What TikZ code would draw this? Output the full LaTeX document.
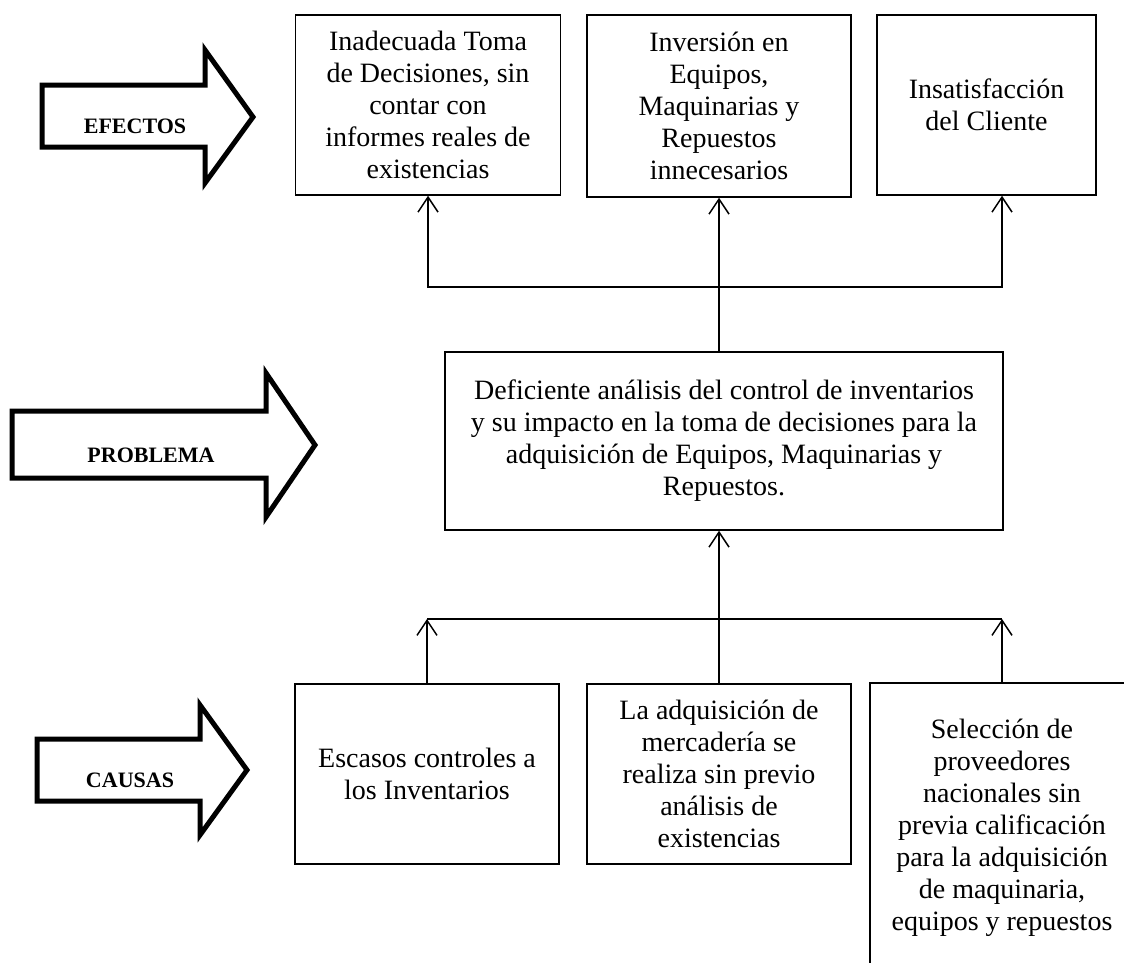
\documentclass[tikz,border=0pt]{standalone}
\usepackage{fontspec}
\setmainfont{Liberation Serif}
\usetikzlibrary{arrows.meta}
\begin{document}
\begin{tikzpicture}[x=1pt,y=-1pt,
 box/.style={draw,line width=1.5pt,inner sep=0pt,align=center,font=\fontsize{28}{32}\selectfont},
 conn/.style={line width=1.5pt},
 arr/.style={conn,-{Straight Barb[length=15pt,width=20pt,line width=1.5pt]}},
 blockarrow/.style={draw,line width=5pt,miter limit=10},
 lbl/.style={font=\fontsize{22}{24}\selectfont\bfseries}]
\useasboundingbox (0,0) rectangle (1124,962);
\clip (0,0) rectangle (1124,962);
% block arrows
\draw[blockarrow] (42,85) -- (205,85) -- (205,50) -- (253,117) -- (205,183) -- (205,147) -- (42,147) -- cycle;
\draw[blockarrow] (12,411) -- (266,411) -- (266,373) -- (315,445) -- (266,517) -- (266,478) -- (12,478) -- cycle;
\draw[blockarrow] (37,739) -- (200,739) -- (200,705) -- (247,770) -- (200,835) -- (200,801) -- (37,801) -- cycle;
\node[lbl] (efectos) at (135,126) {EFECTOS};
\node[lbl] (problema) at (151,455) {PROBLEMA};
\node[lbl] (causas) at (130,780) {CAUSAS};
% effects
\node[box,minimum width=265,minimum height=180] (t1) at (428,105) {Inadecuada Toma\\de Decisiones, sin\\contar con\\informes reales de\\existencias};
\node[box,minimum width=264,minimum height=182] (t2) at (719,106) {Inversión en\\Equipos,\\Maquinarias y\\Repuestos\\innecesarios};
\node[box,minimum width=219,minimum height=180] (t3) at (986.5,105) {Insatisfacción\\del Cliente};
% problem
\node[box,minimum width=558,minimum height=178] (p) at (724,441) {Deficiente análisis del control de inventarios\\y su impacto en la toma de decisiones para la\\adquisición de Equipos, Maquinarias y\\Repuestos.};
% causes
\node[box,minimum width=264,minimum height=180] (c1) at (427,774) {Escasos controles a\\los Inventarios};
\node[box,minimum width=264,minimum height=180] (c2) at (719,774) {La adquisición de\\mercadería se\\realiza sin previo\\análisis de\\existencias};
\node[box,minimum width=264,minimum height=290] (c3) at (1002,828) {Selección de\\proveedores\\nacionales sin\\previa calificación\\para la adquisición\\de maquinaria,\\equipos y repuestos};
% connectors top
\coordinate (tj) at (719,287);
\coordinate (t3a) at ([xshift=15.5pt]t3.south);
\coordinate (ptop) at ([xshift=-5pt]p.north);
\coordinate (pbot) at ([xshift=-5pt]p.south);
\draw[arr] (ptop) -- (t2.south);
\draw[arr] (t3a |- tj) -- (t1.south |- tj) -- (t1.south);
\draw[arr] (t1.south |- tj) -- (t3a |- tj) -- (t3a);
% connectors bottom
\coordinate (bj) at (719,619);
\draw[arr] (c2.north) -- (pbot);
\draw[conn] (c1.north |- bj) -- (c3.north |- bj);
\draw[arr] (c1.north) -- (c1.north |- bj);
\draw[arr] (c3.north) -- (c3.north |- bj);
\end{tikzpicture}
\end{document}
